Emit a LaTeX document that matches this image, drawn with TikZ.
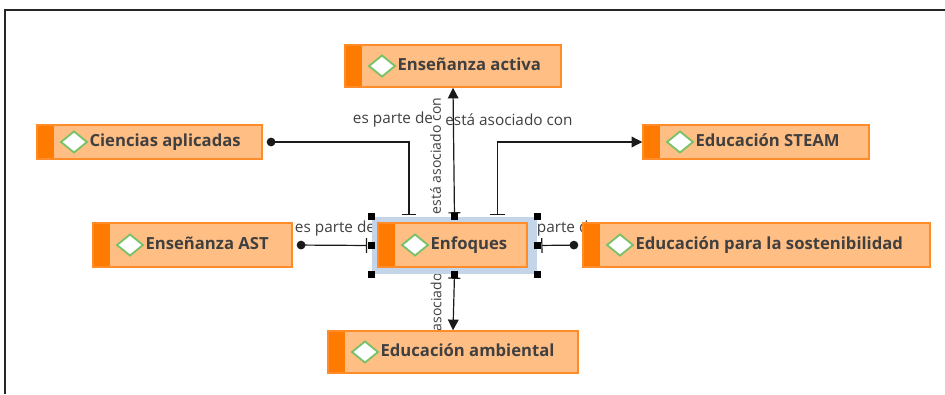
\documentclass[tikz,border=0pt]{standalone}
\usepackage{fontspec}
\newfontfamily\uifont{Open Sans}
\usetikzlibrary{calc,backgrounds,positioning,arrows.meta}
\definecolor{boxfill}{RGB}{255,190,132}
\definecolor{boxedge}{RGB}{255,140,40}
\definecolor{boxbar}{RGB}{255,122,0}
\definecolor{gemedge}{RGB}{122,194,104}
\definecolor{selfill}{RGB}{197,213,233}
\definecolor{inktext}{RGB}{64,64,64}
\definecolor{inkline}{RGB}{26,26,26}
\tikzset{
  every node/.style={font=\uifont},
  concept/.style={rectangle,draw=boxedge,fill=boxfill,line width=1.1pt,inner sep=0pt,
    path picture={
      \fill[boxbar] (path picture bounding box.north west) rectangle ([xshift=12.75pt]path picture bounding box.south west);
      \draw[gemedge,fill=white,line width=1.4pt] ([xshift=18pt]path picture bounding box.west)
        -- ++(9.75pt,7.9pt) -- ++(9.75pt,-7.9pt) -- ++(-9.75pt,-7.9pt) -- cycle;
    }},
  conceptlabel/.style={font=\uifont\bfseries\fontsize{12.5}{15}\selectfont,text=inktext,
    inner sep=0pt,text height=9pt,text depth=2pt},
  linklabel/.style={font=\uifont\fontsize{11.5}{14}\selectfont,text=inktext,inner sep=0pt},
  uplabel/.style={linklabel,font=\uifont\fontsize{10.5}{13}\selectfont,rotate=90},
  selection/.style={rectangle,fill=selfill,inner sep=0pt,minimum width=123.75pt,minimum height=42.75pt},
  grip/.style={rectangle,fill=black,inner sep=0pt,minimum size=5.25pt},
  link/.style={draw=inkline,line width=0.9pt},
  frame/.style={draw=black!85,line width=1.6pt}
}

\begin{document}
\begin{tikzpicture}[x=0.75pt,y=-0.75pt]
\useasboundingbox (0,0) rectangle (945,394);
\draw[frame] (5,394) -- (5,10) -- (945,10);
% concepts
\node[concept,minimum width=162pt,minimum height=31.5pt] (activa) at (453,66) {};
\node[conceptlabel,right=39.75pt of activa.west] (activa-t) {Enseñanza activa};
\node[concept,minimum width=168.75pt,minimum height=25.5pt] (cien) at (149.5,142) {};
\node[conceptlabel,right=39.75pt of cien.west] (cien-t) {Ciencias aplicadas};
\node[concept,minimum width=169.5pt,minimum height=25.5pt] (steam) at (756,142) {};
\node[conceptlabel,right=39.75pt of steam.west] (steam-t) {Educación STEAM};
\node[concept,minimum width=149.25pt,minimum height=33pt] (ast) at (192.5,245) {};
\node[conceptlabel,right=39.75pt of ast.west] (ast-t) {Enseñanza AST};
\node[concept,minimum width=260.25pt,minimum height=33pt] (sost) at (756.5,245) {};
\node[conceptlabel,right=39.75pt of sost.west] (sost-t) {Educación para la sostenibilidad};
\node[concept,minimum width=187.5pt,minimum height=31.5pt] (amb) at (453,352) {};
\node[conceptlabel,right=39.75pt of amb.west] (amb-t) {Educación ambiental};
% selected concept
\node[selection] (sel) at (454.5,245.5) {};
\node[concept,minimum width=111.75pt,minimum height=33pt] (enf) at (452.5,245) {};
\node[conceptlabel,right=39.75pt of enf.west] (enf-t) {Enfoques};
\node[grip] (g-nw) at (sel.north west) {};
\node[grip] (g-n) at (sel.north) {};
\node[grip] (g-ne) at (sel.north east) {};
\node[grip] (g-w) at (sel.west) {};
\node[grip] (g-e) at (sel.east) {};
\node[grip] (g-sw) at (sel.south west) {};
\node[grip] (g-s) at (sel.south) {};
\node[grip] (g-se) at (sel.south east) {};
\coordinate (teeA) at ($(sel.north)+(-45.5,-2)$);
\coordinate (teeB) at ($(sel.north)+(43,-2)$);
% links, drawn under the concepts
\begin{scope}[on background layer]
\draw[link,{Circle[length=6.5pt]}-{Bar[width=11pt]},shorten <=3pt] (cien.east) -| (teeA);
\draw[link,{Bar[width=11pt]}-{Triangle[length=8pt,width=8pt]}] (teeB) |- (steam.west);
\draw[link,{Bar[width=9pt]}-{Triangle[length=8pt,width=8pt]},shorten <=2.5pt] (sel.north) -- (activa.south);
\draw[link,{Bar[width=9pt]}-{Triangle[length=8pt,width=8pt]},shorten <=2.5pt] (sel.south) -- (amb.north);
\draw[link,{Circle[length=6.5pt]}-{Bar[width=11pt]},shorten <=3pt,shorten >=3.5pt] (ast.east) -- (sel.west);
\draw[link,{Circle[length=6.5pt]}-{Bar[width=11pt]},shorten <=3pt,shorten >=3pt] (sost.west) -- (sel.east);
\node[linklabel] (lbl-cien) at (393,120) {es parte de};
\node[linklabel] (lbl-steam) at (509,120) {está asociado con};
\node[uplabel] (lbl-activa) at (435.5,156) {está asociado con};
\node[linklabel] (lbl-ast) at (335,228.5) {es parte de};
\node[linklabel] (lbl-sost) at (557,228.5) {es parte de};
\node[uplabel] (lbl-amb) at (436,304) {está asociado con};
\end{scope}
\end{tikzpicture}
\end{document}
